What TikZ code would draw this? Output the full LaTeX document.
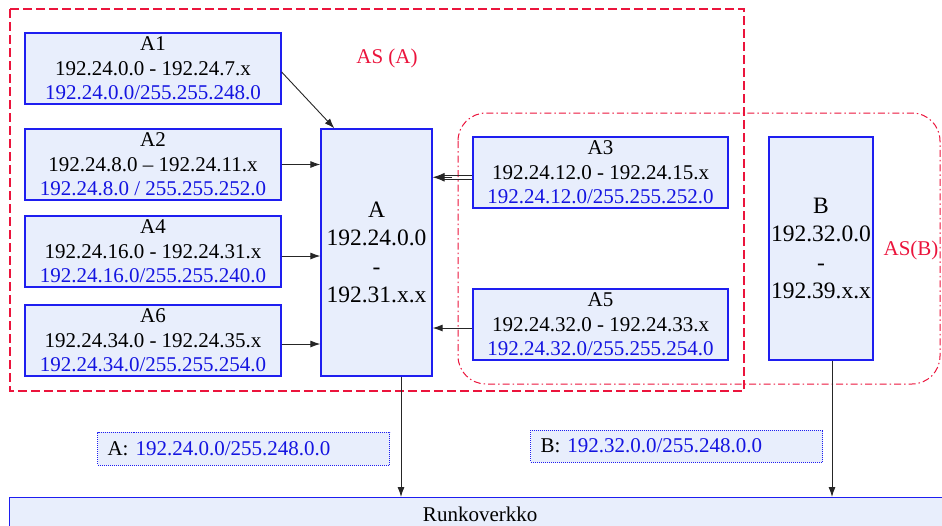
\documentclass[tikz,border=0pt]{standalone}
\usepackage{fontspec}
\setmainfont{Liberation Serif}
\usetikzlibrary{arrows.meta}
\definecolor{boxfill}{RGB}{232,238,252}
\definecolor{boxline}{RGB}{30,30,240}
\definecolor{netblue}{RGB}{20,20,225}
\definecolor{asred}{RGB}{235,20,60}
\begin{document}
\begin{tikzpicture}[x=1pt, y=-1pt,
		subnet/.style={draw=boxline, line width=1.3pt, fill=boxfill, inner sep=0pt,
			minimum width=256pt, minimum height=71pt, align=center,
			font=\fontsize{21}{24.5}\selectfont},
		router/.style={subnet, minimum width=111pt, minimum height=247pt,
			font=\fontsize{23.5}{28.5}\selectfont},
		route/.style={draw=boxline, densely dotted, line width=1pt, fill=boxfill,
			minimum height=33pt, text width=272pt, inner xsep=10pt, align=left,
			font=\fontsize{21}{24}\selectfont},
		link/.style={draw=black!85, line width=0.9pt, -{Latex[length=10pt,width=7pt]}},
		astext/.style={text=asred, font=\fontsize{21}{24}\selectfont}]
		\useasboundingbox (0,0) rectangle (942,525);
		% autonomous systems
		\draw[asred, line width=1.2pt, dash pattern=on 9pt off 4pt] (10,9) rectangle (744,391);
		\draw[asred, line width=1pt, rounded corners=28pt,
			dash pattern=on 7pt off 3pt on 1.5pt off 3pt] (458,113) rectangle (940,384);
		\node[astext] (asa) at (387,58) {AS (A)};
		\node[astext] (asb) at (911,250) {AS(B)};
		% subnets of A
		\node[subnet] (a1) at (153,68.5) {A1\\192.24.0.0 - 192.24.7.x\\\textcolor{netblue}{192.24.0.0/255.255.248.0}};
		\node[subnet] (a2) at (153,164.5) {A2\\192.24.8.0 -- 192.24.11.x\\\textcolor{netblue}{192.24.8.0 / 255.255.252.0}};
		\node[subnet] (a4) at (153,251.5) {A4\\192.24.16.0 - 192.24.31.x\\\textcolor{netblue}{192.24.16.0/255.255.240.0}};
		\node[subnet] (a6) at (153,340.5) {A6\\192.24.34.0 - 192.24.35.x\\\textcolor{netblue}{192.24.34.0/255.255.254.0}};
		\node[subnet, minimum width=255pt] (a3) at (600.5,172.5) {A3\\192.24.12.0 - 192.24.15.x\\\textcolor{netblue}{192.24.12.0/255.255.252.0}};
		\node[subnet, minimum width=255pt] (a5) at (600.5,324.5) {A5\\192.24.32.0 - 192.24.33.x\\\textcolor{netblue}{192.24.32.0/255.255.254.0}};
		% routers
		\node[router] (ra) at (376.5,252.5) {A\\192.24.0.0\\-\\192.31.x.x};
		\node[router, minimum width=104pt, minimum height=223pt] (rb) at (821,248.5) {B\\192.32.0.0\\-\\192.39.x.x};
		% backbone
		\node[subnet, minimum width=941pt, minimum height=34pt, anchor=north west] (runko) at (9,497) {Runkoverkko};
		\node[route] (ra-route) at (243.5,448.5) {A: \textcolor{netblue}{192.24.0.0/255.248.0.0}};
		\node[route, minimum height=32pt] (rb-route) at (676.5,446) {B: \textcolor{netblue}{192.32.0.0/255.248.0.0}};
		% links
		\draw[link] ([yshift=-3.5pt]a1.east) -- ([xshift=14pt]ra.north west);
		\draw[link] (a2.east) -- (a2.east -| ra.west);
		\draw[link] ([yshift=-4.5pt]a4.east) -- ([yshift=-4.5pt]a4.east -| ra.west);
		\draw[link] ([yshift=-3.5pt]a6.east) -- ([yshift=-3.5pt]a6.east -| ra.west);
		\draw[link] ([yshift=-3.5pt]a5.west) -- ([yshift=-3.5pt]a5.west -| ra.east);
		\draw[black!85, line width=0.9pt] ([yshift=-6.5pt]a3.west) -- ([yshift=-6.5pt,xshift=10pt]a3.west -| ra.east);
		\draw[black!85, line width=0.9pt] ([yshift=-3pt]a3.west) -- ([yshift=-3pt,xshift=10pt]a3.west -| ra.east);
		\draw[link, -{Latex[length=12pt,width=9pt]}] ([yshift=-4.75pt,xshift=-20pt]a3.west) -- ([yshift=-4.75pt]a3.west -| ra.east);
		\draw[link] ([xshift=24.5pt]ra.south) -- ([xshift=24.5pt]ra.south |- runko.north);
		\draw[link] ([xshift=11pt]rb.south) -- ([xshift=11pt]rb.south |- runko.north);
	\end{tikzpicture}
\end{document}
